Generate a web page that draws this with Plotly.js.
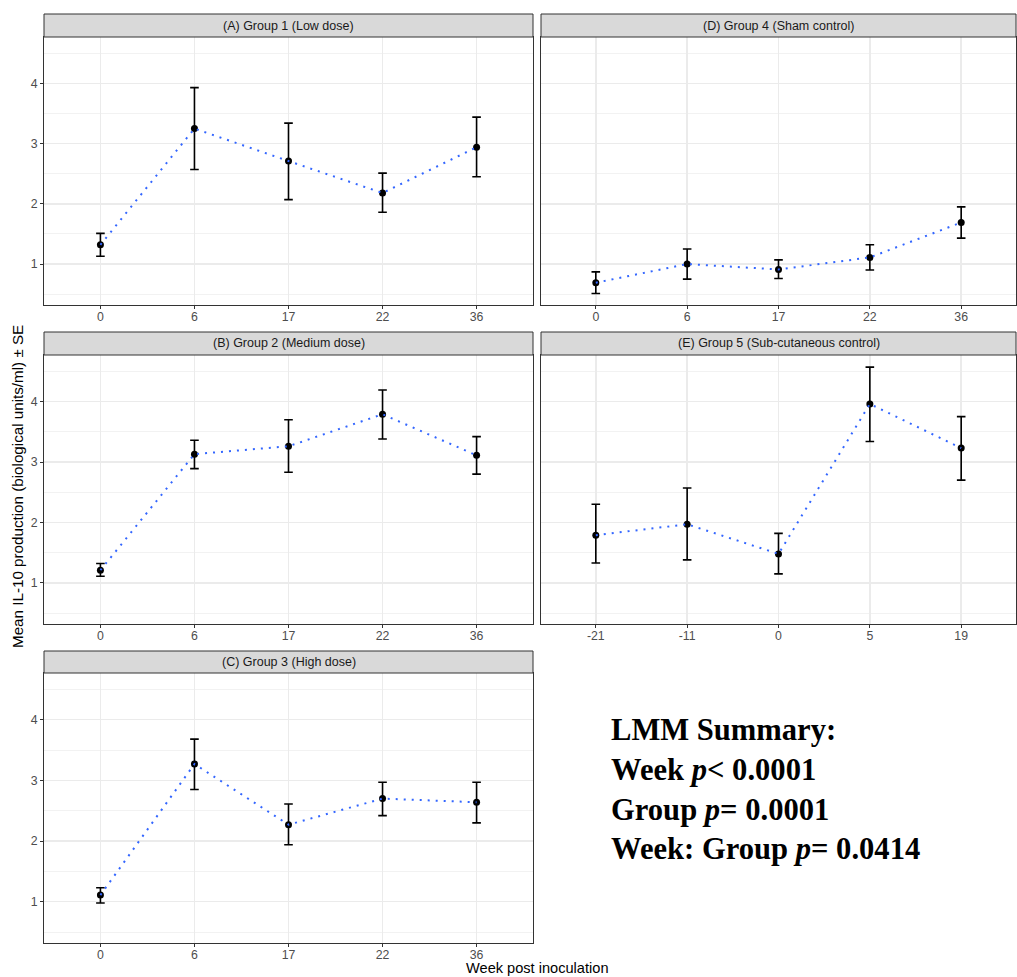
<!DOCTYPE html>
<html>
<head>
<meta charset="utf-8">
<script src="https://cdn.plot.ly/plotly-3.0.1.min.js"></script>
<style>
html,body{margin:0;padding:0;background:#fff;}
#chart{width:1017px;height:977px;}
</style>
</head>
<body>
<div id="chart"></div>
<script>
// ---- Data ----
const panelTitles = ["(A) Group 1 (Low dose)", "(D) Group 4 (Sham control)", "(B) Group 2 (Medium dose)", "(E) Group 5 (Sub-cutaneous control)", "(C) Group 3 (High dose)"];

const weeksA = ["0", "6", "17", "22", "36"];
const meanA  = [1.32, 3.25, 2.71, 2.18, 2.94];
const upperA = [1.51, 3.93, 3.34, 2.51, 3.44];
const lowerA = [1.13, 2.57, 2.07, 1.86, 2.45];

const weeksD = ["0", "6", "17", "22", "36"];
const meanD  = [0.69, 1.00, 0.91, 1.11, 1.69];
const upperD = [0.87, 1.25, 1.07, 1.32, 1.95];
const lowerD = [0.51, 0.75, 0.76, 0.90, 1.43];

const weeksB = ["0", "6", "17", "22", "36"];
const meanB  = [1.21, 3.13, 3.26, 3.79, 3.11];
const upperB = [1.32, 3.36, 3.70, 4.19, 3.42];
const lowerB = [1.11, 2.89, 2.83, 3.38, 2.80];

const weeksE = ["-21", "-11", "0", "5", "19"];
const meanE  = [1.79, 1.97, 1.48, 3.96, 3.23];
const upperE = [2.30, 2.57, 1.82, 4.57, 3.75];
const lowerE = [1.33, 1.38, 1.15, 3.34, 2.70];

const weeksC = ["0", "6", "17", "22", "36"];
const meanC  = [1.11, 3.27, 2.27, 2.70, 2.64];
const upperC = [1.23, 3.68, 2.61, 2.97, 2.97];
const lowerC = [0.98, 2.85, 1.94, 2.42, 2.30];

const yTicks = [1, 2, 3, 4];
const yMinor = [0.5, 1.5, 2.5, 3.5, 4.5];
const yTitle = "Mean IL-10 production (biological units/ml) \u00b1 SE";
const xTitle = "Week post inoculation";
const summaryLines = ["LMM Summary:", "Week <i>p</i>< 0.0001", "Group <i>p</i>= 0.0001", "Week: Group <i>p</i>= 0.0414"];

// ---- Layout geometry (pixels) ----
const W = 1017, H = 977;
const px = v => v / W;
const py = v => 1 - v / H;
const cols = [[44, 533], [541, 1016]];
const rows = [{strip: 14, top: 37, bottom: 305}, {strip: 332, top: 355, bottom: 624}, {strip: 651, top: 673, bottom: 943}];
// panel order: A (r0c0), D (r0c1), B (r1c0), E (r1c1), C (r2c0)
const panelPos = [[0, 0], [0, 1], [1, 0], [1, 1], [2, 0]];
const panelData = [
  [weeksA, meanA, upperA, lowerA],
  [weeksD, meanD, upperD, lowerD],
  [weeksB, meanB, upperB, lowerB],
  [weeksE, meanE, upperE, lowerE],
  [weeksC, meanC, upperC, lowerC]
];

const font = "Liberation Sans, Arial, Helvetica, sans-serif";
const traces = [];
const layout = {
  width: W, height: H,
  margin: {l: 0, r: 0, t: 0, b: 0},
  paper_bgcolor: "#ffffff",
  plot_bgcolor: "#ffffff",
  showlegend: false,
  font: {family: font, color: "#000"},
  shapes: [],
  annotations: []
};

panelData.forEach((pd, i) => {
  const [r, c] = panelPos[i];
  const n = i === 0 ? "" : String(i + 1);
  const xa = "x" + n, ya = "y" + n;
  const [weeks, mean, upper, lower] = pd;
  traces.push({
    type: "scatter", mode: "markers", x: weeks, y: mean, xaxis: xa, yaxis: ya,
    marker: {color: "#000000", size: 7},
    error_y: {type: "data", symmetric: false,
      array: upper.map((u, k) => u - mean[k]),
      arrayminus: lower.map((l, k) => mean[k] - l),
      color: "#000000", thickness: 1.6, width: 4.3},
    hoverinfo: "skip"
  });
  traces.push({
    type: "scatter", mode: "lines", x: weeks, y: mean, xaxis: xa, yaxis: ya,
    line: {color: "#3366FF", width: 2, dash: "2px,6px"},
    hoverinfo: "skip"
  });
  const row = rows[r], col = cols[c];
  layout["xaxis" + n] = {
    domain: [px(col[0]), px(col[1])], anchor: ya,
    type: "category", categoryorder: "array", categoryarray: weeks,
    range: [-0.6, 4.6], fixedrange: true,
    showgrid: true, gridcolor: "#EBEBEB", gridwidth: 1.5,
    zeroline: false, showline: true, mirror: true, linecolor: "#333333", linewidth: 1,
    ticks: "outside", ticklen: 3, tickwidth: 1, tickcolor: "#333333",
    ticklabelstandoff: -3,
    tickfont: {family: font, size: 12.3, color: "#4D4D4D"}
  };
  layout["yaxis" + n] = {
    domain: [py(row.bottom), py(row.top)], anchor: xa,
    range: [0.32, 4.77], fixedrange: true,
    tickmode: "array", tickvals: yTicks, ticktext: yTicks.map(String),
    showgrid: true, gridcolor: "#EBEBEB", gridwidth: 1.5,
    minor: {tickmode: "array", tickvals: yMinor, showgrid: true, gridcolor: "#EFEFEF", gridwidth: 0.8, ticks: ""},
    zeroline: false, showline: true, mirror: true, linecolor: "#333333", linewidth: 1,
    ticks: c === 0 ? "outside" : "", ticklen: 3, tickwidth: 1, tickcolor: "#333333",
    showticklabels: c === 0,
    tickfont: {family: font, size: 12.3, color: "#4D4D4D"}
  };
  // strip
  layout.shapes.push({type: "rect", xref: "paper", yref: "paper",
    x0: px(col[0]), x1: px(col[1]), y0: py(row.top), y1: py(row.strip),
    fillcolor: "#D9D9D9", line: {color: "#333333", width: 1}, layer: "above"});
  layout.annotations.push({xref: "paper", yref: "paper",
    x: px((col[0] + col[1]) / 2), y: py((row.strip + row.top) / 2),
    xanchor: "center", yanchor: "middle", showarrow: false,
    text: panelTitles[i], font: {family: font, size: 12.5, color: "#1A1A1A"}});
});

// axis titles
layout.annotations.push({xref: "paper", yref: "paper", x: px(18), y: py(487),
  xanchor: "center", yanchor: "middle", textangle: -90, showarrow: false,
  text: yTitle, font: {family: font, size: 15.2, color: "#000"}});
layout.annotations.push({xref: "paper", yref: "paper", x: px(537), y: 0,
  xanchor: "center", yanchor: "bottom", showarrow: false, borderpad: 0,
  text: xTitle, font: {family: font, size: 14.6, color: "#000"}});

// LMM summary text
layout.annotations.push({xref: "paper", yref: "paper", x: px(609), y: py(711),
  xanchor: "left", yanchor: "top", align: "left", showarrow: false,
  text: "<b>" + summaryLines.join("<br>") + "</b>",
  font: {family: "Liberation Serif, Times New Roman, serif", size: 30.6, color: "#000"}});

Plotly.newPlot("chart", traces, layout, {displayModeBar: false, staticPlot: true});
</script>
</body>
</html>
